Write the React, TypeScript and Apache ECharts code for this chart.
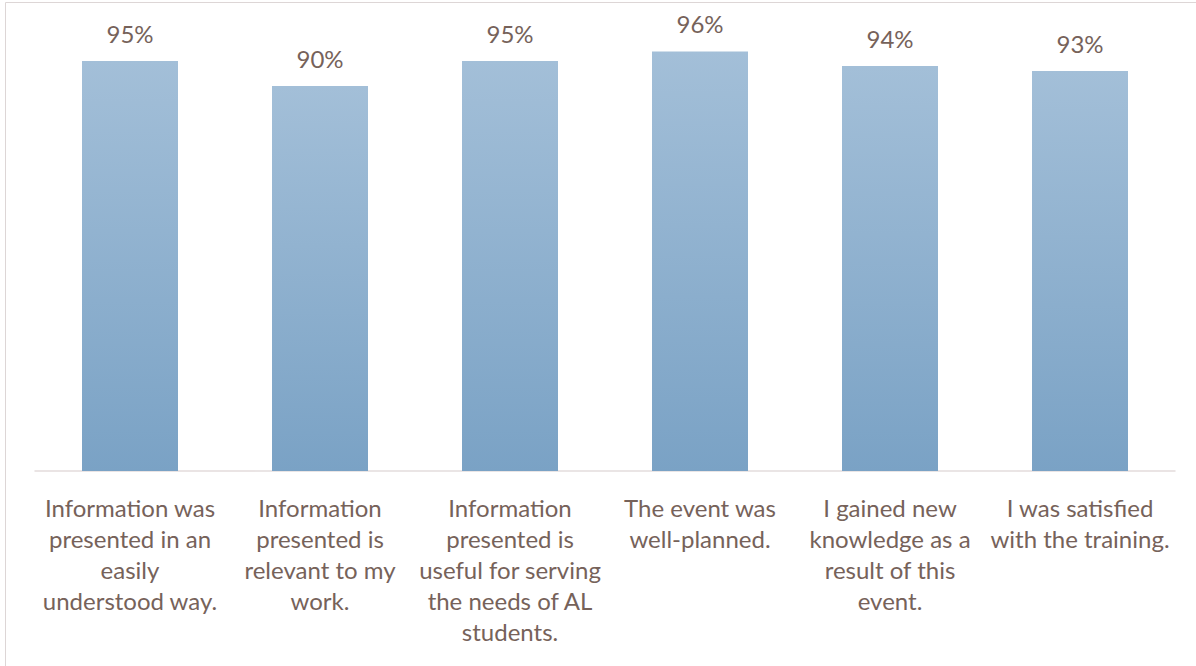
import React, { useEffect, useRef } from "react";
import * as echarts from "echarts";

const categories = [
  "Information was\npresented in an\neasily\nunderstood way.",
  "Information\npresented is\nrelevant to my\nwork.",
  "Information\npresented is\nuseful for serving\nthe needs of AL\nstudents.",
  "The event was\nwell-planned.",
  "I gained new\nknowledge as a\nresult of this\nevent.",
  "I was satisfied\nwith the training.",
];
// bar heights (the 4th bar stands a little taller than its 96% label)
const values = [95, 90, 95, 96.9, 94, 93];

export default function App() {
  const ref = useRef<HTMLDivElement>(null);
  useEffect(() => {
    if (!ref.current) return;
    const chart = echarts.init(ref.current, null, { renderer: "svg" });
    const font = "Lato, 'Open Sans', sans-serif";
    chart.setOption({
      animation: false,
      backgroundColor: "#ffffff",
      graphic: [
        {
          type: "rect",
          shape: { x: 5.5, y: 2.5, width: 1400, height: 900 },
          style: { fill: "none", stroke: "#ddd6d6", lineWidth: 1 },
          silent: true,
        },
      ],
      grid: { left: 35, right: 21, top: 36, bottom: 195, containLabel: false },
      xAxis: {
        type: "category",
        data: categories,
        axisLine: { show: true, lineStyle: { color: "#e3dcdc", width: 1.5 } },
        axisTick: { show: false },
        axisLabel: {
          interval: 0,
          color: "#76625a",
          fontFamily: font,
          fontSize: 24,
          lineHeight: 31,
          margin: 21,
          align: "center",
        },
      },
      yAxis: {
        type: "value",
        min: 13,
        max: 100,
        show: false,
        splitLine: { show: false },
      },
      series: [
        {
          type: "bar",
          data: values,
          barWidth: 96,
          itemStyle: {
            color: new echarts.graphic.LinearGradient(0, 0, 0, 1, [
              { offset: 0, color: "#a3bfd8" },
              { offset: 1, color: "#7aa2c5" },
            ]),
          },
          label: {
            show: true,
            position: "top",
            distance: 16,
            formatter: (p: any) => Math.floor(p.value) + "%",
            color: "#76625a",
            fontFamily: font,
            fontSize: 24,
          },
        },
      ],
    });
    return () => chart.dispose();
  }, []);
  return (
    <div
      ref={ref}
      style={{ position: "fixed", left: 0, top: 0, width: 1196, height: 666 }}
    />
  );
}
